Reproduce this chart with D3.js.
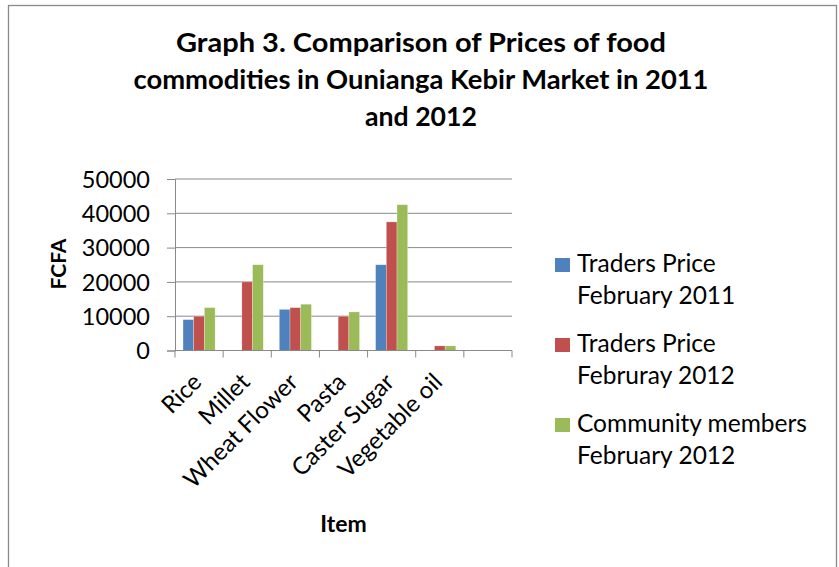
<!DOCTYPE html>
<html>
<head>
<meta charset="utf-8">
<script src="https://cdn.jsdelivr.net/npm/d3@7/dist/d3.min.js"></script>
<style>
  html, body { margin: 0; padding: 0; background: #fff; }
  svg { display: block; }
  text { font-family: Lato, "Open Sans", sans-serif; fill: #000; }
</style>
</head>
<body>
<svg id="chart" width="839" height="567"></svg>
<script>
const titleLines = ["Graph 3. Comparison of Prices of food", "commodities in Ounianga Kebir Market in 2011", "and 2012"];
const categories = ["Rice", "Millet", "Wheat Flower", "Pasta", "Caster Sugar", "Vegetable oil", ""];
const seriesNames = ["Traders Price February 2011", "Traders Price Februray 2012", "Community members February 2012"];
const legendLines = [["Traders Price", "February 2011"], ["Traders Price", "Februray 2012"], ["Community members", "February 2012"]];
const traders2011 = [9000, 0, 12000, 0, 25000, 0];
const traders2012 = [10000, 20000, 12500, 10000, 37500, 1350];
const community2012 = [12500, 25000, 13500, 11250, 42500, 1350];
const yTicks = [0, 10000, 20000, 30000, 40000, 50000];
const colors = ["#4F81BD", "#C0504D", "#9BBB59"];
const yTitle = "FCFA";
const xTitle = "Item";

const svg = d3.select("#chart");
const plot = { left: 175, right: 512, top: 179, bottom: 350.5 };
const gray = "#898989";

// outer border
svg.append("rect").attr("x", 8.5).attr("y", 5.5).attr("width", 828).attr("height", 600)
  .attr("fill", "none").attr("stroke", gray).attr("stroke-width", 1.3);

// title
const titleWidths = [490, 575, 112];
svg.append("g").selectAll("text").data(titleLines).join("text")
  .attr("x", 421).attr("y", (d, i) => 52 + i * 37)
  .attr("text-anchor", "middle").attr("font-weight", "bold").attr("font-size", 27)
  .attr("fill", "#1a1a1a")
  .attr("textLength", (d, i) => titleWidths[i]).attr("lengthAdjust", "spacingAndGlyphs")
  .text(d => d);

const x = d3.scaleBand().domain(categories).range([plot.left, plot.right])
  .paddingInner(1 / 3).paddingOuter(1 / 6);
const xs = d3.scaleBand().domain(d3.range(seriesNames.length)).range([0, x.bandwidth()]);
const y = d3.scaleLinear().domain([0, 50000]).range([plot.bottom, plot.top]);

// gridlines
svg.append("g").selectAll("line").data(yTicks.filter(t => t > 0)).join("line")
  .attr("x1", plot.left).attr("x2", plot.right)
  .attr("y1", d => y(d)).attr("y2", d => y(d))
  .attr("stroke", gray).attr("stroke-width", 1);

// bars
const series = [traders2011, traders2012, community2012];
series.forEach((vals, si) => {
  svg.append("g").selectAll("rect").data(vals.map((v, i) => ({ cat: categories[i], v })))
    .join("rect")
    .attr("x", d => x(d.cat) + xs(si))
    .attr("width", xs.bandwidth())
    .attr("y", d => y(d.v))
    .attr("height", d => y(0) - y(d.v))
    .attr("fill", colors[si])
    .attr("stroke", "rgba(255,255,255,0.45)").attr("stroke-width", 0.6);
});

// y axis
const yAxis = svg.append("g").attr("transform", `translate(${plot.left},0)`)
  .call(d3.axisLeft(y).tickValues(yTicks).tickFormat(d3.format("d")).tickSize(8).tickPadding(17));
yAxis.select(".domain").attr("stroke", gray);
yAxis.selectAll(".tick line").attr("stroke", gray);
yAxis.selectAll(".tick text").attr("font-size", 23.5).attr("font-family", "Lato").attr("fill", "#1a1a1a").attr("dy", "0.35em");

// x axis line
svg.append("line").attr("x1", plot.left).attr("x2", plot.right)
  .attr("y1", plot.bottom).attr("y2", plot.bottom).attr("stroke", gray).attr("stroke-width", 1.2);
// x tick marks at category boundaries
const boundaries = d3.range(categories.length + 1).map(i => plot.left + i * x.step());
svg.append("g").selectAll("line").data(boundaries).join("line")
  .attr("x1", d => d).attr("x2", d => d)
  .attr("y1", plot.bottom).attr("y2", plot.bottom + 7).attr("stroke", gray);

// x labels
svg.append("g").selectAll("text").data(categories.filter(c => c !== "")).join("text")
  .attr("transform", d => `translate(${x(d) + x.bandwidth() / 2 + 4},${plot.bottom + 33}) rotate(-45)`)
  .attr("text-anchor", "end").attr("font-size", 24).attr("fill", "#1a1a1a")
  .text(d => d);

// axis titles
svg.append("text").attr("transform", `translate(66,264) rotate(-90)`)
  .attr("text-anchor", "middle").attr("font-weight", "bold").attr("font-size", 21).attr("fill", "#1a1a1a").text(yTitle);
svg.append("text").attr("x", (plot.left + plot.right) / 2).attr("y", 532)
  .attr("text-anchor", "middle").attr("font-weight", "bold").attr("font-size", 23).attr("fill", "#1a1a1a").text(xTitle);

// legend
const leg = svg.append("g");
legendLines.forEach((lines, i) => {
  const by = 272 + i * 80;
  leg.append("rect").attr("x", 555).attr("y", by - 14).attr("width", 15).attr("height", 14).attr("fill", colors[i]);
  lines.forEach((t, j) => {
    leg.append("text").attr("x", 577).attr("y", by + j * 32).attr("font-size", 24.5).attr("fill", "#1a1a1a").text(t);
  });
});
</script>
</body>
</html>
